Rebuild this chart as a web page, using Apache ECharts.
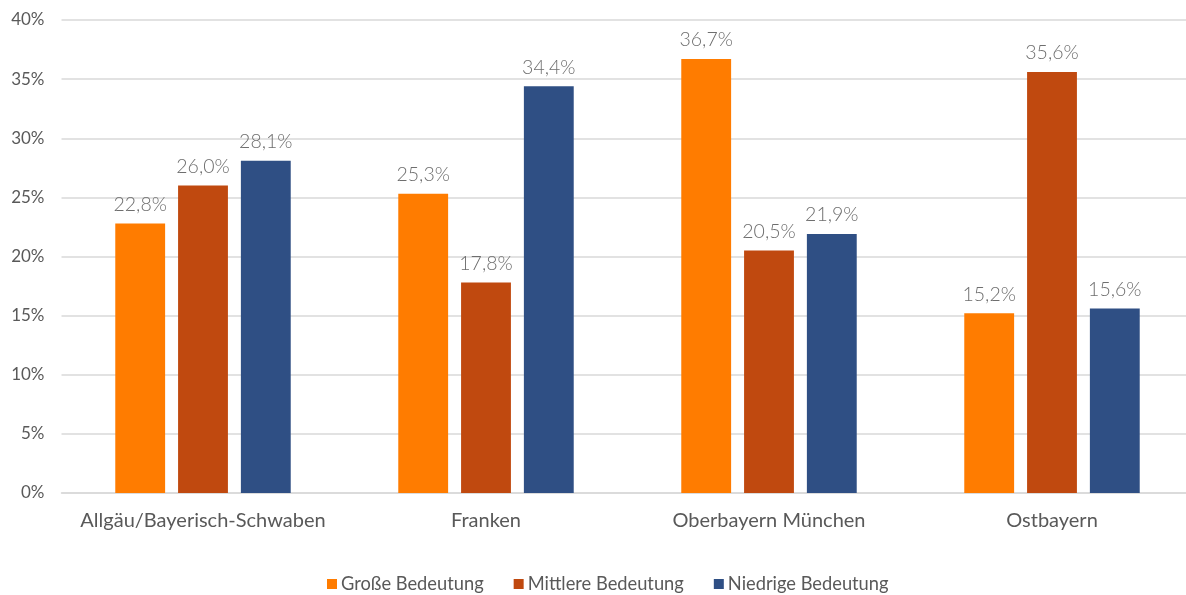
<!DOCTYPE html>
<html><head><meta charset="utf-8">
<script src="https://cdn.jsdelivr.net/npm/echarts@6/dist/echarts.min.js"></script>
<style>html,body{margin:0;padding:0;background:#fff}#c{width:1186px;height:595px}</style>
</head><body><div id="c"></div>
<script>
const categories = ['Allgäu/Bayerisch-Schwaben', 'Franken', 'Oberbayern München', 'Ostbayern'];
const seriesNames = ['Große Bedeutung', 'Mittlere Bedeutung', 'Niedrige Bedeutung'];
const grosse = [22.8, 25.3, 36.7, 15.2];
const mittlere = [26.0, 17.8, 20.5, 35.6];
const niedrige = [28.1, 34.4, 21.9, 15.6];
const colors = ['#FF7C00', '#C0490F', '#2F4F84'];

const font = 'Lato';
const fmt = v => v.toFixed(1).replace('.', ',') + '%';
const dataSets = [grosse, mittlere, niedrige];
const chart = echarts.init(document.getElementById('c'));
chart.setOption({
  animation: false,
  color: colors,
  textStyle: { fontFamily: font },
  grid: { outerBoundsMode: 'none', left: 61.5, right: -7.5, top: 20, bottom: 102, containLabel: false },
  legend: {
    bottom: -3, left: 322, itemWidth: 10, itemHeight: 10, itemGap: 30,
    icon: 'rect',
    textStyle: { fontFamily: font, fontSize: 18.3, color: '#595959', padding: [0, 0, 0, -1] },
    data: seriesNames
  },
  xAxis: {
    type: 'category', data: categories,
    axisLine: { lineStyle: { color: '#D9D9D9', width: 1.5 } },
    axisTick: { show: false },
    axisLabel: { interval: 0, fontFamily: font, fontSize: 20, color: '#595959', margin: 18 }
  },
  yAxis: {
    type: 'value', min: 0, max: 40, interval: 5,
    axisLabel: { fontFamily: font, fontSize: 17, color: '#595959', margin: 17, formatter: v => v + '%' },
    splitLine: { lineStyle: { color: '#D9D9D9', width: 1.5 } },
    axisLine: { show: false }, axisTick: { show: false }
  },
  series: dataSets.map((d, i) => ({
    name: seriesNames[i], type: 'bar', data: d,
    barGap: '26%', barCategoryGap: '38%',
    itemStyle: { color: colors[i] },
    label: { show: true, position: 'top', distance: 9, fontFamily: font, fontWeight: 300, fontSize: 19.5, color: '#6E6E6E',
      formatter: p => fmt(p.value) }
  }))
});
</script></body></html>
